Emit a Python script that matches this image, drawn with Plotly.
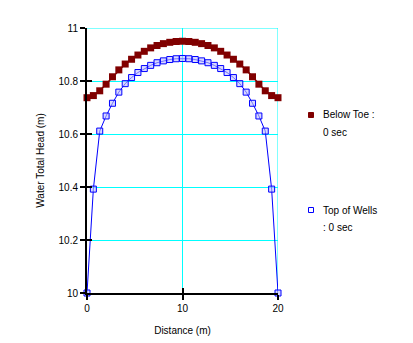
import plotly.graph_objects as go

# Distance along the section (m): 31 equally spaced nodes from 0 to 20
distance = [i * 20 / 30 for i in range(31)]

# Total head below the toe (m), at time 0
below_toe = [10.737, 10.745, 10.763, 10.788, 10.816, 10.842, 10.864, 10.882,
             10.898, 10.912, 10.925, 10.934, 10.941, 10.946, 10.949, 10.950,
             10.949, 10.946, 10.941, 10.934, 10.925, 10.912, 10.898, 10.882,
             10.864, 10.842, 10.816, 10.788, 10.763, 10.745, 10.737]

# Total head at the top of the wells (m), at time 0
top_of_wells = [10.000, 10.392, 10.611, 10.668, 10.716, 10.758, 10.790, 10.813,
                10.832, 10.847, 10.859, 10.869, 10.876, 10.881, 10.884, 10.885,
                10.884, 10.881, 10.876, 10.869, 10.859, 10.847, 10.832, 10.813,
                10.790, 10.758, 10.716, 10.668, 10.611, 10.392, 10.000]

x_ticks = [0, 10, 20]
y_ticks = [10, 10.2, 10.4, 10.6, 10.8, 11]
y_tick_text = ["10", "10.2", "10.4", "10.6", "10.8", "11"]

legend_lines = [["Below Toe :", "0 sec"], ["Top of Wells", ": 0 sec"]]

RED = "#800000"
BLUE = "#0000FF"
CYAN = "#00FFFF"
FONT = "Liberation Sans, Arial, sans-serif"
TEXT = "#000"

fig = go.Figure()

fig.add_trace(go.Scatter(
    x=distance, y=top_of_wells, mode="lines+markers",
    line=dict(color=BLUE, width=1),
    marker=dict(symbol="square", size=6, color="rgba(190,190,255,0.6)",
                line=dict(width=1, color=BLUE)),
    cliponaxis=False, showlegend=False,
))
fig.add_trace(go.Scatter(
    x=distance, y=below_toe, mode="lines+markers",
    line=dict(color=RED, width=1.5),
    marker=dict(symbol="square", size=7, color=RED),
    cliponaxis=False, showlegend=False,
))

axis_common = dict(
    showgrid=True, gridcolor=CYAN, gridwidth=1, zeroline=False,
    showline=True, linecolor="black", linewidth=2, automargin=False,
    ticks="outside", ticklen=5, tickwidth=1.5, tickcolor="black",
    tickfont=dict(family=FONT, size=10, color=TEXT),
)

fig.update_layout(
    width=413, height=343,
    margin=dict(l=87, r=135, t=28, b=50),
    paper_bgcolor="white", plot_bgcolor="white",
    font=dict(family=FONT, size=10, color=TEXT),
    xaxis=dict(range=[0, 20], tickvals=x_ticks, **axis_common,
               title=dict(text="Distance (m)", standoff=14,
                          font=dict(family=FONT, size=10, color=TEXT))),
    yaxis=dict(range=[10, 11], tickvals=y_ticks, ticktext=y_tick_text,
               **axis_common,
               title=dict(text="Water Total Head (m)", standoff=12,
                          font=dict(family=FONT, size=10, color=TEXT))),
    # overlay axes supply the inner half of each crossing tick mark
    xaxis2=dict(range=[0, 20], tickvals=x_ticks, overlaying="x", anchor="y",
                side="bottom", showgrid=False, zeroline=False, showline=False,
                ticks="inside", ticklen=5, tickwidth=1.5, tickcolor="black",
                showticklabels=False, automargin=False),
    yaxis2=dict(range=[10, 11], tickvals=y_ticks, overlaying="y", anchor="x",
                side="left", showgrid=False, zeroline=False, showline=False,
                ticks="inside", ticklen=5, tickwidth=1.5, tickcolor="black",
                showticklabels=False, automargin=False),
)

# dummy trace so the overlay axes are drawn
fig.add_trace(go.Scatter(x=[None], y=[None], xaxis="x2", yaxis="y2",
                         showlegend=False, hoverinfo="skip"))

# frame edges at x=20 and y=11 in grid colour
fig.add_shape(type="line", xref="x", yref="y", x0=0, x1=20, y0=11, y1=11,
              line=dict(color=CYAN, width=1), layer="below")
fig.add_shape(type="line", xref="x", yref="y", x0=20, x1=20, y0=10, y1=11,
              line=dict(color=CYAN, width=1), layer="below")

# legend: marker swatches and two-line labels
legend_y = [115, 210]
legend_style = [dict(fill=RED, edge=RED), dict(fill="white", edge=BLUE)]
plot_w = 413 - 87 - 135
plot_h = 343 - 28 - 50
for lines, py, st in zip(legend_lines, legend_y, legend_style):
    xp = (311 - 87) / plot_w
    yp = 1 - (py - 28) / plot_h
    fig.add_shape(type="rect", xref="paper", yref="paper",
                  xsizemode="pixel", ysizemode="pixel",
                  xanchor=xp, yanchor=yp, x0=-2.5, x1=2.5, y0=-2.5, y1=2.5,
                  fillcolor=st["fill"], line=dict(color=st["edge"], width=1))
    for k, txt in enumerate(lines):
        fig.add_annotation(text=txt, xref="paper", yref="paper",
                           x=(321 - 87) / plot_w,
                           y=1 - (py + 17 * k - 28) / plot_h,
                           xanchor="left", yanchor="middle", showarrow=False,
                           font=dict(family=FONT, size=10, color=TEXT))

fig.write_html("out.html")
